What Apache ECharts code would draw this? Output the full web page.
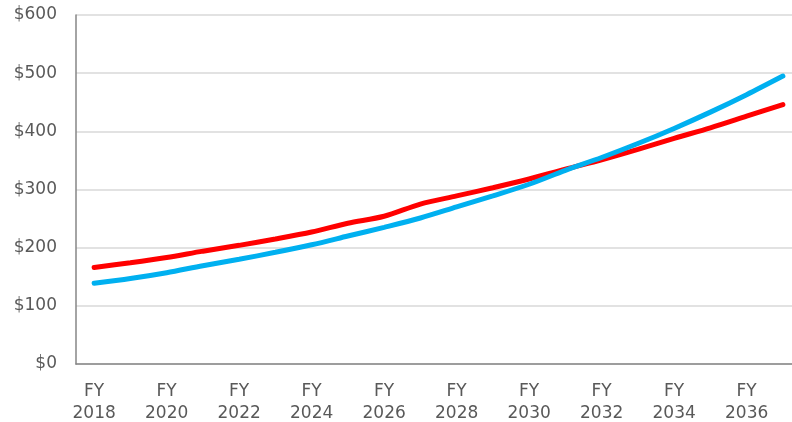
<!DOCTYPE html>
<html>
<head>
<meta charset="utf-8">
<script src="https://cdn.jsdelivr.net/npm/echarts@6/dist/echarts.min.js"></script>
<style>html,body{margin:0;padding:0;background:#fff;}#c{width:792px;height:422px;}</style>
</head>
<body>
<div id="c"></div>
<script>
var years = ['2018','2019','2020','2021','2022','2023','2024','2025','2026','2027','2028','2029','2030','2031','2032','2033','2034','2035','2036','2037'];
var redSeries = [166,174,183,194,204,215,227,242,254,275,289,303,318,335,351,369,388,406,426,446];
var blueSeries = [139,147,157,169,180,192,205,220,235,251,270,289,309,333,355,379,405,433,463,495];
var yTicks = [0,100,200,300,400,500,600];

var chart = echarts.init(document.getElementById('c'));
var txt = '#595959';
var fontFam = 'DejaVu Sans';
chart.setOption({
  animation: false,
  grid: {left: 76, top: 15, bottom: 58, right: -9, containLabel: false, outerBoundsMode: 'none'},
  xAxis: {
    type: 'category',
    data: years,
    boundaryGap: true,
    axisLine: {show: true, lineStyle: {color: '#868686', width: 1.5}},
    axisTick: {show: false},
    axisLabel: {
      interval: 1,
      margin: 17,
      color: txt,
      fontFamily: fontFam,
      fontSize: 17,
      lineHeight: 22,
      formatter: function (v) { return 'FY\n' + v; }
    },
    splitLine: {show: false}
  },
  yAxis: {
    type: 'value',
    min: yTicks[0],
    max: yTicks[yTicks.length - 1],
    interval: 100,
    axisLine: {show: true, lineStyle: {color: '#868686', width: 1.5}},
    axisTick: {show: false},
    axisLabel: {
      margin: 19,
      color: txt,
      fontFamily: fontFam,
      fontSize: 17,
      formatter: function (v) { return '$' + v; }
    },
    splitLine: {show: true, lineStyle: {color: '#d9d9d9', width: 1.5}}
  },
  series: [
    {
      name: 'Red',
      type: 'line',
      data: redSeries,
      smooth: 0.3,
      symbol: 'none',
      lineStyle: {color: '#ff0000', width: 5, cap: 'round'},
      z: 3
    },
    {
      name: 'Blue',
      type: 'line',
      data: blueSeries,
      smooth: 0.3,
      symbol: 'none',
      lineStyle: {color: '#00b0f0', width: 5, cap: 'round'},
      z: 4
    }
  ]
});
</script>
</body>
</html>
